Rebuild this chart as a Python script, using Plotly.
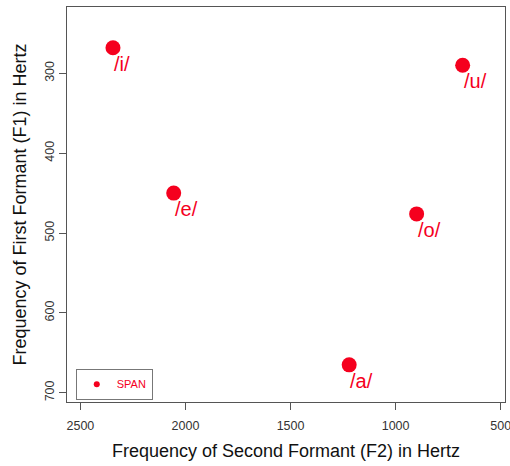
import plotly.graph_objects as go

vowels = ["/i/", "/e/", "/a/", "/o/", "/u/"]
f2 = [2345, 2056, 1221, 900, 681]
f1 = [268, 450, 665, 476, 290]
series_name = "SPAN"

x_ticks = [2500, 2000, 1500, 1000, 500]
y_ticks = [300, 400, 500, 600, 700]

RED = "#F5001E"
FONT = "Liberation Sans, Arial, Helvetica, sans-serif"
AX = "#555555"

fig = go.Figure()
fig.add_trace(go.Scatter(
    x=f2, y=f1, mode="markers",
    marker=dict(size=15, color=RED),
    showlegend=False, hoverinfo="skip",
))
fig.add_trace(go.Scatter(
    x=[None], y=[None], mode="markers", name=series_name,
    marker=dict(size=6, color=RED),
))

for v, x, y in zip(vowels, f2, f1):
    fig.add_annotation(
        x=x, y=y, text=v, showarrow=False,
        xanchor="left", yanchor="top", xshift=-1, yshift=-3,
        font=dict(family=FONT, size=20, color=RED),
    )

fig.update_layout(
    width=510, height=466,
    margin=dict(l=67, r=5, t=7, b=64, autoexpand=False),
    paper_bgcolor="white", plot_bgcolor="white",
    font=dict(family=FONT, color="#222222"),
    legend=dict(
        x=0.02, y=0.006, xanchor="left", yanchor="bottom",
        bordercolor="#777777", borderwidth=1, bgcolor="white",
        font=dict(family=FONT, size=11, color=RED),
        itemwidth=30, tracegroupgap=0,
    ),
)
fig.update_xaxes(
    range=[2563.8, 479.5], tickvals=x_ticks, ticktext=[str(t) for t in x_ticks],
    showgrid=False, zeroline=False, automargin=False,
    showline=True, linecolor=AX, linewidth=1, mirror=True,
    ticks="outside", ticklen=7, tickcolor=AX, ticklabelstandoff=5,
    ticklabeloverflow="allow",
    tickfont=dict(family=FONT, size=12.5, color="#333333"),
    title=dict(text="Frequency of Second Formant (F2) in Hertz",
               font=dict(family=FONT, size=18, color="#111111"), standoff=12),
)
fig.update_yaxes(
    range=[711.5, 217], tickvals=y_ticks, ticktext=[str(t) for t in y_ticks],
    tickangle=-90,
    showgrid=False, zeroline=False, automargin=False,
    showline=True, linecolor=AX, linewidth=1, mirror=True,
    ticks="outside", ticklen=7, tickcolor=AX,
    ticklabeloverflow="allow",
    tickfont=dict(family=FONT, size=12.5, color="#333333"),
    title=dict(text="Frequency of First Formant (F1) in Hertz",
               font=dict(family=FONT, size=18, color="#111111"), standoff=11),
)

fig.write_html("out.html", config={"displayModeBar": False},
               post_script="document.body.style.margin='0';document.body.style.padding='0';")
